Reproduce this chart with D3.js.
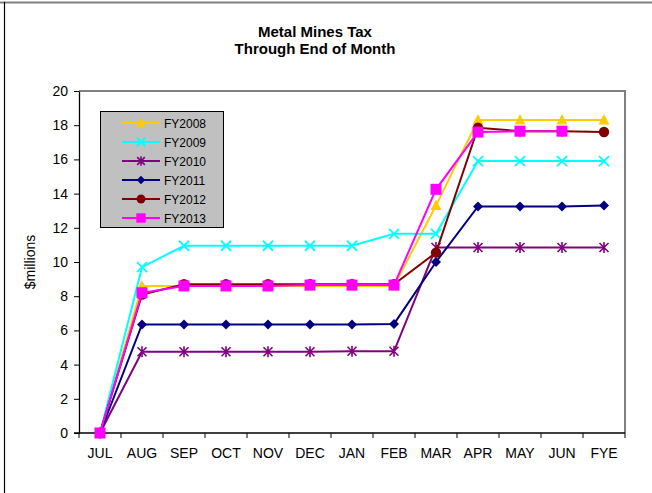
<!DOCTYPE html>
<html><head><meta charset="utf-8">
<script src="https://cdn.jsdelivr.net/npm/d3@7"></script>
<style>body{margin:0;background:#fff}svg{display:block;font-family:"Liberation Sans",Arial,sans-serif}</style>
</head><body>
<svg id="chart" width="652" height="493"></svg>
<script>
const months = ["JUL","AUG","SEP","OCT","NOV","DEC","JAN","FEB","MAR","APR","MAY","JUN","FYE"];
const yTicks = [0,2,4,6,8,10,12,14,16,18,20];
const fy2008 = [0,8.6,8.6,8.6,8.6,8.6,8.6,8.6,13.3,18.3,18.3,18.3,18.3];
const fy2009 = [0,9.7,10.95,10.95,10.95,10.95,10.95,11.65,11.65,15.9,15.9,15.9,15.9];
const fy2010 = [0,4.75,4.75,4.75,4.75,4.75,4.78,4.78,10.85,10.85,10.85,10.85,10.85];
const fy2011 = [0,6.35,6.35,6.35,6.35,6.35,6.35,6.38,10.0,13.25,13.25,13.25,13.3];
const fy2012 = [0,8.1,8.7,8.7,8.7,8.7,8.7,8.7,10.55,17.85,17.65,17.65,17.6];
const fy2013 = [0,8.2,8.6,8.6,8.6,8.65,8.65,8.65,14.25,17.6,17.65,17.65,null];
const seriesNames = ["FY2008","FY2009","FY2010","FY2011","FY2012","FY2013"];
const seriesColors = ["#FFCC00","#00FFFF","#800080","#000080","#800000","#FF00FF"];
const seriesMarkers = ["triangle","x","asterisk","diamond","circle","square"];
const seriesValues = [fy2008,fy2009,fy2010,fy2011,fy2012,fy2013];

const svg = d3.select("#chart");
svg.append("line").attr("x1",0).attr("x2",652).attr("y1",2.5).attr("y2",2.5).attr("stroke","#808080").attr("stroke-width",2);
svg.append("line").attr("x1",4.5).attr("x2",4.5).attr("y1",2).attr("y2",493).attr("stroke","#000").attr("stroke-width",1.2);

const L=79, R=625, T=91, B=433;
const x = d3.scaleBand().domain(months).range([L,R]);
const y = d3.scaleLinear().domain([0,20]).range([B,T]);

svg.append("text").attr("x",315).attr("y",37).attr("text-anchor","middle").attr("font-size",15).attr("font-weight","bold").text("Metal Mines Tax");
svg.append("text").attr("x",315).attr("y",54).attr("text-anchor","middle").attr("font-size",15).attr("font-weight","bold").text("Through End of Month");

svg.append("path").attr("d",`M${L},${T}H${R}V${B}`).attr("fill","none").attr("stroke","#808080").attr("stroke-width",2);

const yAxis = d3.axisLeft(y).tickValues(yTicks).tickSize(5).tickSizeOuter(0).tickPadding(6);
const gy = svg.append("g").attr("transform",`translate(${L},0)`).call(yAxis);
gy.select(".domain").attr("stroke","#000").attr("stroke-width",1.3);
gy.selectAll(".tick line").attr("stroke","#000");
gy.selectAll("text").attr("font-size",14).attr("font-family","Liberation Sans, Arial, sans-serif").attr("fill","#000");

const gx = svg.append("g").attr("transform",`translate(0,${B})`);
gx.append("line").attr("x1",L-5).attr("x2",R).attr("y1",0).attr("y2",0).attr("stroke","#000").attr("stroke-width",1.3);
const bounds = months.map(m=>x(m)).concat([R]);
gx.selectAll(".bt").data(bounds).join("line").attr("x1",d=>d).attr("x2",d=>d).attr("y1",0).attr("y2",5).attr("stroke","#000");
gx.selectAll(".lbl").data(months).join("text").attr("x",d=>x(d)+x.bandwidth()/2).attr("y",25)
  .attr("text-anchor","middle").attr("font-size",14).text(d=>d);

svg.append("text").attr("transform","translate(35,262) rotate(-90)").attr("text-anchor","middle").attr("font-size",14).text("$millions");

function marker(g, type, color, cx, cy, s){
  s = s||1;
  if(type==="triangle"){
    g.append("path").attr("d",`M${cx},${cy-6*s}L${cx+5.5*s},${cy+4.5*s}L${cx-5.5*s},${cy+4.5*s}Z`).attr("fill",color);
  } else if(type==="x"){
    g.append("path").attr("d",`M${cx-5*s},${cy-5*s}L${cx+5*s},${cy+5*s}M${cx-5*s},${cy+5*s}L${cx+5*s},${cy-5*s}`).attr("stroke",color).attr("stroke-width",1.8);
  } else if(type==="asterisk"){
    g.append("path").attr("d",`M${cx-4.5*s},${cy-4.5*s}L${cx+4.5*s},${cy+4.5*s}M${cx-4.5*s},${cy+4.5*s}L${cx+4.5*s},${cy-4.5*s}M${cx},${cy-5.5*s}L${cx},${cy+5.5*s}`).attr("stroke",color).attr("stroke-width",1.6);
  } else if(type==="diamond"){
    g.append("path").attr("d",`M${cx},${cy-5*s}L${cx+5*s},${cy}L${cx},${cy+5*s}L${cx-5*s},${cy}Z`).attr("fill",color);
  } else if(type==="circle"){
    g.append("circle").attr("cx",cx).attr("cy",cy).attr("r",5.2*s).attr("fill",color);
  } else if(type==="square"){
    g.append("rect").attr("x",cx-5.5*s).attr("y",cy-5.5*s).attr("width",11*s).attr("height",11*s).attr("fill",color);
  }
}

const line = d3.line().defined(d=>d.v!=null).x(d=>x(d.m)+x.bandwidth()/2).y(d=>y(d.v));
seriesValues.forEach((vals,i)=>{
  const pts = months.map((m,j)=>({m, v: vals[j]}));
  const g = svg.append("g");
  g.append("path").attr("d",line(pts)).attr("fill","none").attr("stroke",seriesColors[i]).attr("stroke-width",2);
  pts.filter(p=>p.v!=null).forEach(p=>marker(g, seriesMarkers[i], seriesColors[i], x(p.m)+x.bandwidth()/2, y(p.v)));
});

const lg = svg.append("g");
lg.append("rect").attr("x",100.5).attr("y",111.5).attr("width",123).attr("height",116).attr("fill","#C0C0C0").attr("stroke","#000").attr("stroke-width",1);
seriesNames.forEach((n,i)=>{
  const yy = 123 + i*19;
  lg.append("line").attr("x1",122).attr("x2",160).attr("y1",yy).attr("y2",yy).attr("stroke",seriesColors[i]).attr("stroke-width",2);
  marker(lg, seriesMarkers[i], seriesColors[i], 141, yy, 0.85);
  lg.append("text").attr("x",164).attr("y",yy+4.5).attr("font-size",12).text(n);
});
</script>
</body></html>
